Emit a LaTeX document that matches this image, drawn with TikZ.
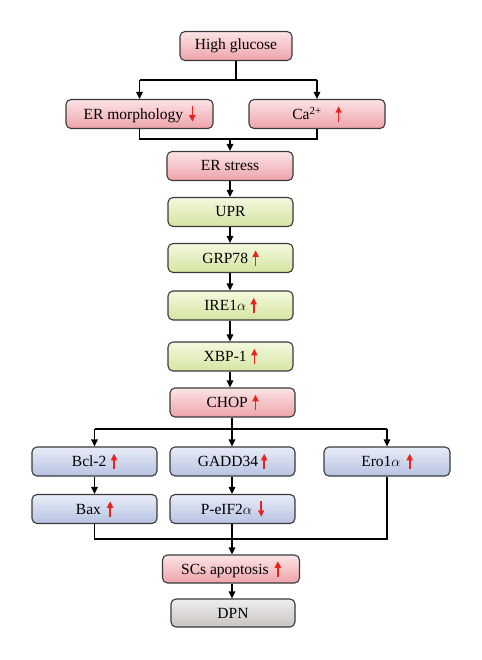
\documentclass[tikz,border=0pt]{standalone}
\usepackage{fontspec}
\setmainfont{Liberation Serif}
\usetikzlibrary{arrows.meta,calc}
\definecolor{pinkT}{HTML}{FCE4E6}
\definecolor{pinkB}{HTML}{EDA3A9}
\definecolor{greenT}{HTML}{F4F9DE}
\definecolor{greenB}{HTML}{D5E4A2}
\definecolor{blueT}{HTML}{E8ECF7}
\definecolor{blueB}{HTML}{B6C3E2}
\definecolor{grayT}{HTML}{F0EFEE}
\definecolor{grayB}{HTML}{C7C3C1}
\definecolor{bord}{HTML}{3A3A3A}
\definecolor{redarr}{HTML}{E8231E}
\newcommand{\uparr}{\tikz[baseline=0pt,x=1pt,y=1pt]\draw[redarr,line width=1.6pt,-{Triangle[width=6pt,length=6.5pt]}] (0,-2.5) -- (0,13);}
\newcommand{\dnarr}{\tikz[baseline=0pt,x=1pt,y=1pt]\draw[redarr,line width=1.6pt,-{Triangle[width=6pt,length=6.5pt]}] (0,13) -- (0,-2.5);}
\tikzset{
  box/.style={draw=bord,line width=1.1pt,rounded corners=5pt,minimum height=29pt,
    inner sep=0pt,font=\fontsize{15.5}{18}\selectfont,shading angle=0},
  pinkbox/.style={box,top color=pinkT,bottom color=pinkB},
  greenbox/.style={box,top color=greenT,bottom color=greenB},
  bluebox/.style={box,top color=blueT,bottom color=blueB},
  graybox/.style={box,top color=grayT,bottom color=grayB},
  conn/.style={draw=black,line width=1.1pt},
  arr/.style={conn,-{Triangle[width=6.5pt,length=7pt]}}
}
\begin{document}
\begin{tikzpicture}[x=1pt,y=-1pt]
\useasboundingbox (0,0) rectangle (481,660);
\node[pinkbox,minimum width=112pt] (hg) at (236,46) {High glucose};
\node[pinkbox,minimum width=147pt] (erm) at (139.5,114) {ER morphology\hspace{0.4em}\dnarr};
\node[pinkbox,minimum width=136pt] (ca) at (317,114) {Ca\textsuperscript{2+}\hspace{0.9em}\uparr};
\node[pinkbox,minimum width=126pt] (ers) at (230,166) {ER stress};
\node[greenbox,minimum width=125pt] (upr) at (230.5,212) {UPR};
\node[greenbox,minimum width=125pt] (grp) at (230.5,258) {GRP78\hspace{0.3em}\uparr};
\node[greenbox,minimum width=125pt] (ire) at (230.5,305.5) {IRE1$\alpha$\hspace{0.3em}\uparr};
\node[greenbox,minimum width=125pt] (xbp) at (230.5,356.5) {XBP-1\hspace{0.3em}\uparr};
\node[pinkbox,minimum width=125pt] (chop) at (232.5,402.5) {CHOP\hspace{0.3em}\uparr};
\node[bluebox,minimum width=125pt] (bcl) at (94.5,461.5) {Bcl-2\hspace{0.3em}\uparr};
\node[bluebox,minimum width=125pt] (gadd) at (232.5,461.5) {GADD34\hspace{0.2em}\uparr};
\node[bluebox,minimum width=126pt] (ero) at (387,461.5) {Ero1$\alpha$\hspace{0.4em}\uparr};
\node[bluebox,minimum width=125pt] (bax) at (94.5,509) {Bax\hspace{0.4em}\uparr};
\node[bluebox,minimum width=125pt] (peif) at (232.5,509) {P-eIF2$\alpha$\hspace{0.4em}\dnarr};
\node[pinkbox,minimum width=137pt,minimum height=28pt] (scs) at (231,569) {SCs apoptosis\hspace{0.4em}\uparr};
\node[graybox,minimum width=124pt,minimum height=28pt] (dpn) at (233,613) {DPN};
% top split
\coordinate (s1) at (236,80);
\draw[conn] (hg.south) -- (s1);
\draw[conn] (s1 -| erm.north) -- (s1 -| ca.north);
\draw[arr] (s1 -| erm.north) -- (erm.north);
\draw[arr] (s1 -| ca.north) -- (ca.north);
% merge
\coordinate (m1) at (230,139);
\draw[conn] (erm.south) |- (m1);
\draw[conn] (ca.south) |- (m1);
\draw[arr] (m1) -- (ers.north);
% chain
\draw[arr] (ers.south -| 230,0) -- (upr.north -| 230,0);
\draw[arr] (upr.south -| 230,0) -- (grp.north -| 230,0);
\draw[arr] (grp.south -| 230,0) -- (ire.north -| 230,0);
\draw[arr] (ire.south -| 230,0) -- (xbp.north -| 230,0);
\draw[arr] (xbp.south -| 230,0) -- (chop.north -| 230,0);
% chop split
\coordinate (s2) at (232,429);
\draw[conn] (chop.south -| s2) -- (s2);
\draw[conn] (s2 -| bcl.north) -- (s2 -| ero.north);
\draw[arr] (s2 -| bcl.north) -- (bcl.north);
\draw[arr] (s2) -- (gadd.north -| s2);
\draw[arr] (s2 -| ero.north) -- (ero.north);
\draw[arr] (bcl.south) -- (bax.north);
\draw[arr] (gadd.south -| s2) -- (peif.north -| s2);
% bottom merge
\coordinate (m2) at (232,539);
\draw[conn] (bax.south) |- (m2);
\draw[conn] (ero.south) |- (m2);
\draw[arr] (peif.south -| m2) -- (scs.north -| m2);
\draw[arr] (scs.south -| m2) -- (dpn.north -| m2);
\end{tikzpicture}
\end{document}
